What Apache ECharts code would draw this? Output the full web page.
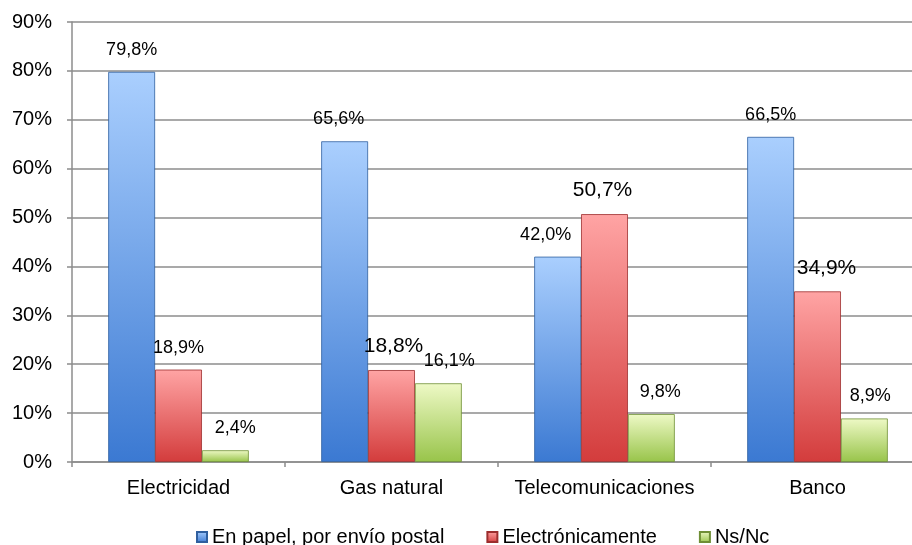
<!DOCTYPE html>
<html>
<head>
<meta charset="utf-8">
<script src="https://cdn.jsdelivr.net/npm/echarts@6/dist/echarts.min.js"></script>
<style>html,body{margin:0;padding:0;background:#fff;overflow:hidden;width:912px;height:545px}#c{width:924px;height:545px}</style>
</head>
<body>
<div id="c"></div>
<script>
const categories = ['Electricidad', 'Gas natural', 'Telecomunicaciones', 'Banco'];
const seriesNames = ['En papel, por envío postal', 'Electrónicamente', 'Ns/Nc'];
const papel = [79.8, 65.6, 42.0, 66.5];
const electronica = [18.9, 18.8, 50.7, 34.9];
const nsnc = [2.4, 16.1, 9.8, 8.9];
const yTicks = [0, 10, 20, 30, 40, 50, 60, 70, 80, 90];

// label styling (not data): font size and horizontal nudge per bar
const labelStyle = [
  [[18, 0], [18, 0], [18, 10]],
  [[18, -6], [21, 2], [18, 11]],
  [[18, -12], [21, -2], [18, 9]],
  [[18, 0], [21, 9], [18, 6]]
];

const FONT = '"Liberation Sans", Arial, sans-serif';
function grad(top, bottom) {
  return new echarts.graphic.LinearGradient(0, 0, 0, 1, [
    { offset: 0, color: top }, { offset: 1, color: bottom }
  ]);
}
const styles = [
  { top: '#aacffe', bottom: '#3b79d2', border: '#2f5f9f' },
  { top: '#ffa4a4', bottom: '#d33c3c', border: '#9c2d2d' },
  { top: '#eef9c6', bottom: '#98c44a', border: '#6f8f35' }
];
const values = [papel, electronica, nsnc];

const series = values.map((arr, si) => ({
  name: seriesNames[si],
  type: 'bar',
  barGap: '0%',
  barCategoryGap: '34%',
  itemStyle: {
    color: grad(styles[si].top, styles[si].bottom),
    borderColor: styles[si].border,
    borderWidth: 0.8
  },
  data: arr.map((v, ci) => ({
    value: v,
    label: {
      fontSize: labelStyle[ci][si][0],
      offset: [labelStyle[ci][si][1], 0]
    }
  })),
  label: {
    show: true,
    position: 'top',
    distance: 13,
    color: '#000',
    fontFamily: FONT,
    formatter: p => p.value.toFixed(1).replace('.', ',') + '%'
  }
}));

const chart = echarts.init(document.getElementById('c'), null, { renderer: 'canvas' });
chart.setOption({
  animation: false,
  backgroundColor: '#fff',
  grid: { left: 72, right: 0, top: 22, bottom: 83, containLabel: false },
  legend: {
    data: seriesNames.map((n, i) => ({ name: n, itemStyle: { color: grad(styles[i].top, styles[i].bottom) } })),
    left: 191,
    top: 522,
    icon: 'rect',
    itemWidth: 10,
    itemHeight: 10,
    itemGap: 42,
    textStyle: { fontSize: 20, fontFamily: FONT, color: '#000' }
  },
  xAxis: {
    type: 'category',
    data: categories,
    axisLine: { lineStyle: { color: '#8c8c8c', width: 1.5 } },
    axisTick: { show: true, length: 5, lineStyle: { color: '#8c8c8c', width: 1.5 } },
    axisLabel: { fontSize: 20, fontFamily: FONT, color: '#000', margin: 16, interval: 0 }
  },
  yAxis: {
    type: 'value',
    min: yTicks[0],
    max: yTicks[yTicks.length - 1],
    interval: 10,
    axisLine: { show: true, lineStyle: { color: '#8c8c8c', width: 1.5 } },
    axisTick: { show: true, length: 5, lineStyle: { color: '#8c8c8c', width: 1.5 } },
    splitLine: { lineStyle: { color: '#8c8c8c', width: 1.5 } },
    axisLabel: { fontSize: 20, fontFamily: FONT, color: '#000', margin: 20, formatter: '{value}%' }
  },
  series: series
});
</script>
</body>
</html>
